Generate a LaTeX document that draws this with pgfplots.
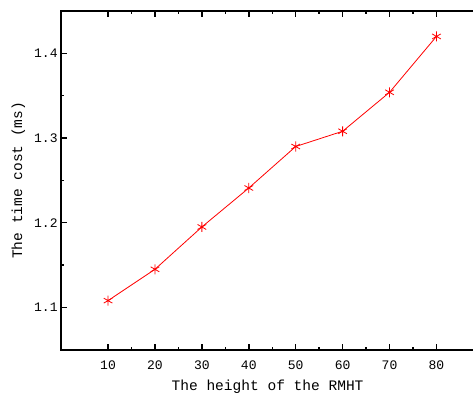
\documentclass[border=0pt]{standalone}
\usepackage{fontspec}
\setmainfont{Liberation Mono}
\usepackage{pgfplots}
\pgfplotsset{compat=1.18}
\begin{document}
\begin{tikzpicture}
\begin{axis}[
  scale only axis,
  width=412pt, height=338pt,
  xmin=0, xmax=88, ymin=1.05, ymax=1.45,
  xtick={10,20,30,40,50,60,70,80},
  ytick={1.1,1.2,1.3,1.4},
  minor x tick num=1, minor y tick num=1,
  tick align=inside,
  ytick pos=left,
  major tick length=6pt, minor tick length=3pt,
  axis line style={line width=1.8pt},
  every tick/.style={black, line width=1.5pt},
  tick label style={font=\fontsize{13}{15}\selectfont},
  xticklabel style={yshift=-7pt},
  label style={font=\fontsize{14.5}{17}\selectfont},
  /pgf/number format/assume math mode=true,
  yticklabel style={/pgf/number format/fixed, /pgf/number format/precision=1, /pgf/number format/fixed zerofill},
  xlabel={The height of the RMHT},
  ylabel={The time cost (ms)},
  xlabel style={yshift=-4pt},
  ylabel style={yshift=2pt},
]
\addplot[red, line width=0.8pt, mark=asterisk, mark size=5pt, mark options={line width=0.8pt}] coordinates {
(10,1.108) (20,1.145) (30,1.195) (40,1.241) (50,1.290) (60,1.308) (70,1.354) (80,1.420)
};
\coordinate (sw) at (rel axis cs:0,0);
\coordinate (ne) at (rel axis cs:1,1);
\end{axis}
\pgfresetboundingbox
\path ([shift={(-61pt,-48pt)}]sw) rectangle ([shift={(-1pt,11pt)}]ne);
\end{tikzpicture}
\end{document}
